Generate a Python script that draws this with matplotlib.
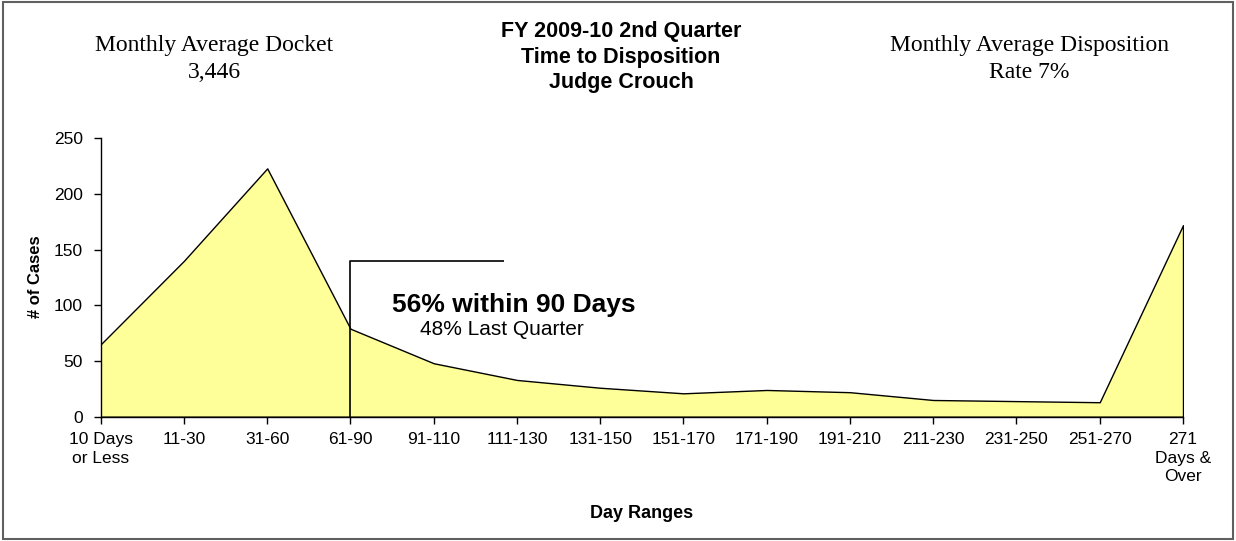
import matplotlib
matplotlib.use("Agg")
import matplotlib.pyplot as plt
from matplotlib.patches import Rectangle
import numpy as np

categories = ["10 Days\nor Less", "11-30", "31-60", "61-90", "91-110", "111-130",
              "131-150", "151-170", "171-190", "191-210", "211-230", "231-250",
              "251-270", "271\nDays &\nOver"]
cases = [65, 140, 223, 79, 48, 33, 26, 21, 24, 22, 15, 14, 13, 172]
yticks = [0, 50, 100, 150, 200, 250]
marker_level = 140
marker_start = 3      # 61-90 category
marker_end = 4.85

W, H = 1236, 541
fig = plt.figure(figsize=(W / 100, H / 100), dpi=100)
ax = fig.add_axes([100.7 / W, (H - 416.7) / H, 1082.3 / W, 278.4 / H])

SANS = ["Liberation Sans", "DejaVu Sans"]
SERIF = ["Liberation Serif", "DejaVu Serif"]

x = np.arange(len(categories))
ax.fill_between(x, cases, 0, facecolor="#FFFF99", edgecolor="black", linewidth=1.0, zorder=2)

# annotation bracket
ax.plot([marker_start, marker_start, marker_end], [0, marker_level, marker_level],
        color="black", linewidth=1.2, zorder=3, solid_capstyle="butt")
ax.text(4.96, 100.3, "56% within 90 Days", ha="center", va="center",
        fontsize=19, fontweight="bold", family=SANS, zorder=4)
ax.text(4.82, 77.9, "48% Last Quarter", ha="center", va="center",
        fontsize=15, family=SANS, zorder=4)

ax.set_xlim(0, len(categories) - 1)
ax.set_ylim(0, 250)
ax.set_xticks(x)
ax.set_xticklabels(categories, family=SANS, fontsize=12.5, linespacing=1.3)
ax.set_yticks(yticks)
ax.set_yticklabels([str(v) for v in yticks], family=SANS, fontsize=12.5)
ax.tick_params(axis="x", direction="out", length=5, width=1, pad=6)
ax.tick_params(axis="y", direction="out", length=5, width=1, pad=8)
for s in ["top", "right"]:
    ax.spines[s].set_visible(False)
for s in ["left", "bottom"]:
    ax.spines[s].set_linewidth(1.0)
    ax.spines[s].set_zorder(5)

# axis labels
fig.text(642 / W, 1 - 513 / H, "Day Ranges", ha="center", va="center",
         fontsize=13, fontweight="bold", family=SANS)
fig.text(35 / W, 1 - 277 / H, "# of Cases", ha="center", va="center", rotation=90,
         fontsize=12, fontweight="bold", family=SANS)

# header texts
fig.text(621 / W, 1 - 57 / H, "FY 2009-10 2nd Quarter\nTime to Disposition\nJudge Crouch",
         ha="center", va="center", fontsize=15.5, fontweight="bold", family=SANS,
         linespacing=1.3)
fig.text(214 / W, 1 - 59 / H, "Monthly Average Docket\n3,446", ha="center", va="center",
         fontsize=17, family=SERIF, linespacing=1.32)
fig.text(1029 / W, 1 - 59 / H, "Monthly Average Disposition\nRate 7%", ha="center", va="center",
         fontsize=17, family=SERIF, linespacing=1.32)

# outer frame
fig.patches.append(Rectangle((3 / W, 2 / H), 1230 / W, 537 / H, transform=fig.transFigure,
                             fill=False, edgecolor="#606060", linewidth=1.5))

fig.savefig("out.png", dpi=100, facecolor="white")
